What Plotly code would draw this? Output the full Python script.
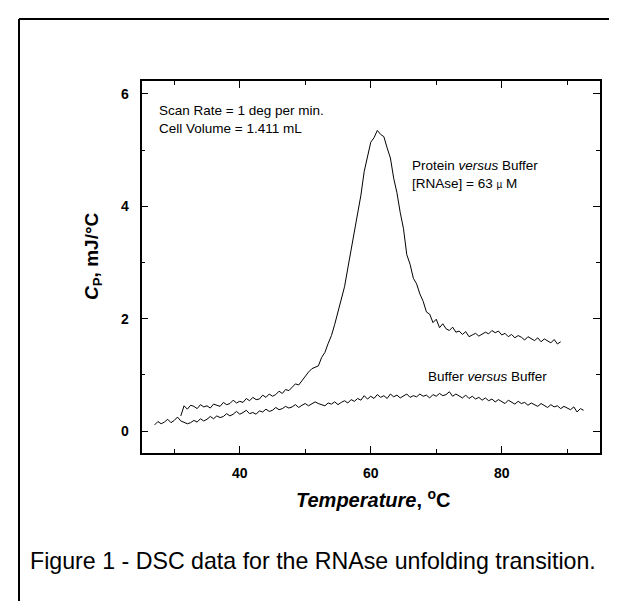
import plotly.graph_objects as go

# ---------------- data ----------------
protein_temp = [
    31.0, 31.5, 32.0, 32.5, 33.0, 33.5, 34.0, 34.5, 35.0, 35.5,
    36.0, 36.5, 37.0, 37.5, 38.0, 38.5, 39.0, 39.5, 40.0, 40.5,
    41.0, 41.5, 42.0, 42.5, 43.0, 43.5, 44.0, 44.5, 45.0, 45.5,
    46.0, 46.5, 47.0, 47.5, 48.0, 48.5, 49.0, 49.5, 50.0, 50.5,
    51.0, 51.5, 52.0, 52.5, 53.0, 53.5, 54.0, 54.5, 55.0, 55.5,
    56.0, 56.5, 57.0, 57.5, 58.0, 58.5, 59.0, 59.5, 60.0, 60.5,
    61.0, 61.5, 62.0, 62.5, 63.0, 63.5, 64.0, 64.5, 65.0, 65.5,
    66.0, 66.5, 67.0, 67.5, 68.0, 68.5, 69.0, 69.5, 70.0, 70.5,
    71.0, 71.5, 72.0, 72.5, 73.0, 73.5, 74.0, 74.5, 75.0, 75.5,
    76.0, 76.5, 77.0, 77.5, 78.0, 78.5, 79.0, 79.5, 80.0, 80.5,
    81.0, 81.5, 82.0, 82.5, 83.0, 83.5, 84.0, 84.5, 85.0, 85.5,
    86.0, 86.5, 87.0, 87.5, 88.0, 88.5, 89.0,
]
protein_cp = [
    0.27, 0.45, 0.39, 0.46, 0.44, 0.40, 0.47, 0.43, 0.45, 0.41,
    0.48, 0.46, 0.44, 0.51, 0.47, 0.49, 0.55, 0.50, 0.53, 0.51,
    0.58, 0.54, 0.60, 0.56, 0.57, 0.64, 0.60, 0.66, 0.62, 0.65,
    0.71, 0.67, 0.74, 0.72, 0.78, 0.84, 0.82, 0.90, 0.97, 1.05,
    1.11, 1.13, 1.16, 1.31, 1.40, 1.56, 1.70, 1.90, 2.13, 2.36,
    2.57, 2.90, 3.24, 3.53, 3.90, 4.20, 4.62, 4.86, 5.14, 5.22,
    5.35, 5.28, 5.24, 5.04, 4.86, 4.50, 4.24, 3.89, 3.60, 3.14,
    2.97, 2.72, 2.62, 2.44, 2.31, 2.12, 2.08, 1.93, 1.99, 1.84,
    1.91, 1.82, 1.79, 1.85, 1.76, 1.78, 1.72, 1.77, 1.68, 1.71,
    1.74, 1.69, 1.72, 1.76, 1.73, 1.79, 1.75, 1.78, 1.71, 1.74,
    1.68, 1.72, 1.66, 1.70, 1.67, 1.62, 1.68, 1.64, 1.61, 1.66,
    1.59, 1.64, 1.60, 1.57, 1.63, 1.55, 1.59,
]

buffer_temp = [
    27.0, 27.5, 28.0, 28.5, 29.0, 29.5, 30.0, 30.5, 31.0, 31.5,
    32.0, 32.5, 33.0, 33.5, 34.0, 34.5, 35.0, 35.5, 36.0, 36.5,
    37.0, 37.5, 38.0, 38.5, 39.0, 39.5, 40.0, 40.5, 41.0, 41.5,
    42.0, 42.5, 43.0, 43.5, 44.0, 44.5, 45.0, 45.5, 46.0, 46.5,
    47.0, 47.5, 48.0, 48.5, 49.0, 49.5, 50.0, 50.5, 51.0, 51.5,
    52.0, 52.5, 53.0, 53.5, 54.0, 54.5, 55.0, 55.5, 56.0, 56.5,
    57.0, 57.5, 58.0, 58.5, 59.0, 59.5, 60.0, 60.5, 61.0, 61.5,
    62.0, 62.5, 63.0, 63.5, 64.0, 64.5, 65.0, 65.5, 66.0, 66.5,
    67.0, 67.5, 68.0, 68.5, 69.0, 69.5, 70.0, 70.5, 71.0, 71.5,
    72.0, 72.5, 73.0, 73.5, 74.0, 74.5, 75.0, 75.5, 76.0, 76.5,
    77.0, 77.5, 78.0, 78.5, 79.0, 79.5, 80.0, 80.5, 81.0, 81.5,
    82.0, 82.5, 83.0, 83.5, 84.0, 84.5, 85.0, 85.5, 86.0, 86.5,
    87.0, 87.5, 88.0, 88.5, 89.0, 89.5, 90.0, 90.5, 91.0, 91.5,
    92.0, 92.5,
]
buffer_cp = [
    0.11, 0.17, 0.13, 0.16, 0.21, 0.15, 0.19, 0.25, 0.18, 0.16,
    0.13, 0.15, 0.19, 0.16, 0.22, 0.18, 0.21, 0.26, 0.22, 0.27,
    0.24, 0.26, 0.31, 0.27, 0.30, 0.35, 0.30, 0.33, 0.37, 0.31,
    0.33, 0.30, 0.36, 0.34, 0.39, 0.35, 0.37, 0.42, 0.38, 0.40,
    0.44, 0.41, 0.43, 0.47, 0.42, 0.46, 0.49, 0.45, 0.48, 0.52,
    0.49, 0.47, 0.45, 0.50, 0.48, 0.52, 0.47, 0.51, 0.54, 0.50,
    0.56, 0.53, 0.58, 0.55, 0.63, 0.57, 0.62, 0.58, 0.65, 0.60,
    0.63, 0.58, 0.66, 0.61, 0.64, 0.59, 0.62, 0.66, 0.60, 0.63,
    0.61, 0.66, 0.62, 0.64, 0.59, 0.65, 0.62, 0.67, 0.63, 0.65,
    0.70, 0.62, 0.66, 0.63, 0.59, 0.64, 0.58, 0.62, 0.57, 0.60,
    0.55, 0.59, 0.54, 0.57, 0.52, 0.56, 0.53, 0.49, 0.55, 0.51,
    0.48, 0.53, 0.49, 0.51, 0.46, 0.50, 0.47, 0.44, 0.49, 0.45,
    0.42, 0.47, 0.43, 0.45, 0.40, 0.44, 0.41, 0.38, 0.43, 0.34,
    0.40, 0.37,
]

x_tick_vals = [40, 60, 80]
y_tick_vals = [0, 2, 4, 6]

caption = "Figure 1 - DSC data for the RNAse unfolding transition."
note_scan = "Scan Rate = 1 deg per min.<br>Cell Volume = 1.411 mL"
note_protein = "Protein <i>versus</i> Buffer<br>[RNAse] = 63 <span style='font-size:10px'>µ</span> M"
note_buffer = "Buffer <i>versus</i> Buffer"

# ---------------- figure ----------------
W, H = 617, 601
FONT = "Liberation Sans, Arial, sans-serif"

def px(x, y):
    return x / W, 1 - y / H

fig = go.Figure()
fig.add_trace(go.Scatter(x=protein_temp, y=protein_cp, mode="lines",
                         line=dict(color="black", width=1), showlegend=False,
                         hoverinfo="skip"))
fig.add_trace(go.Scatter(x=buffer_temp, y=buffer_cp, mode="lines",
                         line=dict(color="black", width=1), showlegend=False,
                         hoverinfo="skip"))

x0, _ = px(133.5, 0)
x1, _ = px(592, 0)
_, y1 = px(0, 73)
_, y0 = px(0, 445)

axis_common = dict(
    showline=True, linecolor="black", linewidth=1.6, mirror="ticks",
    ticks="inside", ticklen=7, tickwidth=1.2, tickcolor="black",
    showgrid=False, zeroline=False,
    tickfont=dict(family=FONT, size=14, color="black", weight="bold"),
)

fig.update_layout(
    width=W, height=H,
    margin=dict(l=0, r=0, t=0, b=0),
    paper_bgcolor="white", plot_bgcolor="white",
    font=dict(family=FONT, color="black"),
    xaxis=dict(domain=[x0, x1], range=[25, 95], tickvals=x_tick_vals,
               minor=dict(dtick=10, tick0=0, ticks="inside", ticklen=4,
                          tickwidth=1.2, tickcolor="black"),
               ticklabelstandoff=6, **axis_common),
    yaxis=dict(domain=[y0, y1], range=[-0.39, 6.23], tickvals=y_tick_vals,
               minor=dict(dtick=1, tick0=0, ticks="inside", ticklen=4,
                          tickwidth=1.2, tickcolor="black"),
               ticklabelstandoff=8, **axis_common),
)

# outer frame (top and left only)
fx, fy = px(11, 11)
fig.add_shape(type="line", xref="paper", yref="paper", x0=fx, y0=fy, x1=1, y1=fy,
              line=dict(color="black", width=2))
fig.add_shape(type="line", xref="paper", yref="paper", x0=fx, y0=fy, x1=fx, y1=0,
              line=dict(color="black", width=2))

# in-plot notes
fig.add_annotation(x=27.4, y=5.55, text=note_scan, showarrow=False, xanchor="left",
                   yanchor="middle", align="left",
                   font=dict(family=FONT, size=13.5, color="black"))
fig.add_annotation(x=66.0, y=4.56, text=note_protein, showarrow=False, xanchor="left",
                   yanchor="middle", align="left",
                   font=dict(family=FONT, size=13.5, color="black"))
fig.add_annotation(x=68.4, y=0.98, text=note_buffer, showarrow=False, xanchor="left",
                   yanchor="middle", align="left",
                   font=dict(family=FONT, size=13.5, color="black"))

# axis titles
tx, ty = px(366, 490)
fig.add_annotation(x=tx, y=ty, xref="paper", yref="paper", showarrow=False,
                   text="<b><i>Temperature</i>, <sup>o</sup>C</b>",
                   font=dict(family=FONT, size=20, color="black"),
                   xanchor="center", yanchor="middle")
ax_, ay_ = px(85, 248)
fig.add_annotation(x=ax_, y=ay_, xref="paper", yref="paper", showarrow=False,
                   text="<b><i>C</i><sub>P</sub>, mJ/°C</b>", textangle=-90,
                   font=dict(family=FONT, size=19, color="black"),
                   xanchor="center", yanchor="middle")

# caption
cx, cy = px(20, 553)
fig.add_annotation(x=cx, y=cy, xref="paper", yref="paper", showarrow=False,
                   text=caption, xanchor="left", yanchor="middle",
                   font=dict(family=FONT, size=23.2, color="black"))

fig.write_html("out.html")
